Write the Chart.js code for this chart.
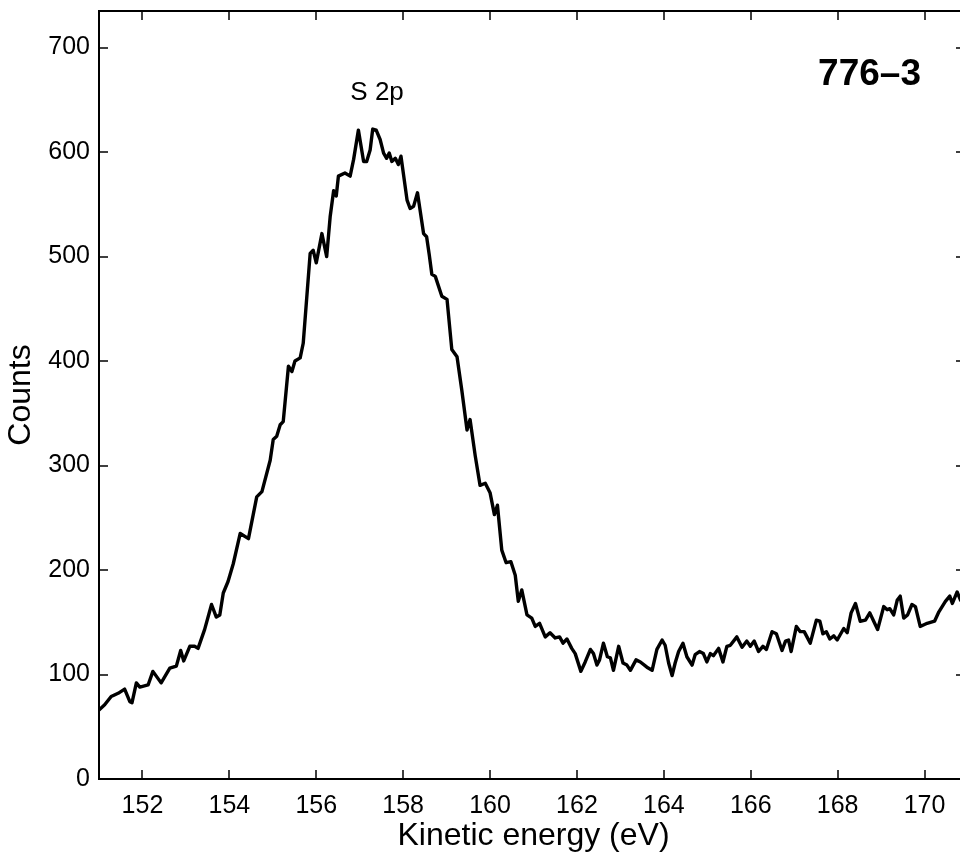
<!DOCTYPE html>
<html>
<head>
<meta charset="utf-8">
<title>776-3 S 2p</title>
<script src="https://cdn.jsdelivr.net/npm/chart.js@4"></script>
<style>
  html, body { margin: 0; padding: 0; background: #fff; overflow: hidden; }
  #grafico { display: block; }
</style>
</head>
<body>
<canvas id="grafico" width="976" height="855" style="width:976px;height:855px"></canvas>
<script>
// 1. Datos
const energia = [
  151.0, 151.13, 151.28, 151.44, 151.59, 151.71, 151.76, 151.86, 151.94, 152.13,
  152.24, 152.43, 152.63, 152.78, 152.88, 152.95, 153.09, 153.2, 153.28, 153.43,
  153.59, 153.7, 153.78, 153.86, 153.97, 154.09, 154.25, 154.44, 154.63, 154.75,
  154.94, 155.01, 155.09, 155.17, 155.24, 155.36, 155.44, 155.51, 155.63, 155.7,
  155.86, 155.93, 156.0, 156.13, 156.24, 156.32, 156.4, 156.46, 156.51, 156.66,
  156.78, 156.86, 156.97, 157.09, 157.16, 157.24, 157.3, 157.38, 157.47, 157.55,
  157.62, 157.68, 157.74, 157.82, 157.89, 157.95, 158.09, 158.16, 158.24, 158.33,
  158.47, 158.54, 158.6, 158.66, 158.74, 158.89, 159.01, 159.12, 159.24, 159.35,
  159.47, 159.54, 159.66, 159.77, 159.89, 160.0, 160.1, 160.17, 160.27, 160.37,
  160.48, 160.58, 160.65, 160.73, 160.85, 160.96, 161.04, 161.14, 161.27, 161.38,
  161.5, 161.6, 161.68, 161.77, 161.88, 161.96, 162.09, 162.19, 162.31, 162.38,
  162.46, 162.52, 162.61, 162.7, 162.77, 162.84, 162.96, 163.06, 163.15, 163.23,
  163.36, 163.46, 163.61, 163.73, 163.84, 163.96, 164.03, 164.11, 164.19, 164.26,
  164.34, 164.44, 164.53, 164.65, 164.72, 164.82, 164.91, 164.99, 165.07, 165.14,
  165.26, 165.36, 165.45, 165.53, 165.68, 165.8, 165.91, 165.99, 166.08, 166.18,
  166.28, 166.36, 166.49, 166.59, 166.72, 166.8, 166.87, 166.93, 167.05, 167.14,
  167.23, 167.37, 167.51, 167.59, 167.66, 167.74, 167.82, 167.91, 167.99, 168.14,
  168.22, 168.31, 168.41, 168.52, 168.64, 168.74, 168.83, 168.92, 169.06, 169.14,
  169.2, 169.29, 169.37, 169.44, 169.52, 169.61, 169.71, 169.79, 169.9, 170.06,
  170.23, 170.33, 170.48, 170.58, 170.64, 170.75, 170.83
];
const cuentas = [
  66, 71, 79, 82, 86, 74, 73, 92, 88, 90,
  103, 92, 106, 108, 123, 113, 127, 127, 125, 143,
  167, 155, 157, 178, 189, 206, 235, 230, 270, 275,
  305, 325, 328, 339, 342, 395, 390, 400, 403, 417,
  503, 506, 494, 522, 500, 538, 563, 558, 577, 580,
  577, 593, 621, 591, 591, 602, 622, 621, 612, 599,
  594, 599, 591, 594, 588, 596, 554, 546, 548, 561,
  522, 519, 502, 483, 481, 462, 459, 411, 404, 372,
  334, 344, 309, 281, 283, 274, 253, 262, 219, 207,
  208, 195, 170, 181, 157, 154, 146, 149, 136, 140,
  135, 136, 130, 134, 125, 120, 103, 112, 124, 120,
  109, 114, 130, 117, 116, 104, 127, 111, 109, 104,
  114, 112, 107, 104, 124, 133, 128, 111, 99, 111,
  122, 130, 117, 109, 119, 122, 120, 112, 120, 118,
  125, 112, 127, 128, 136, 126, 132, 127, 132, 122,
  127, 124, 141, 139, 123, 132, 133, 122, 146, 141,
  141, 130, 152, 151, 139, 141, 134, 137, 133, 144,
  140, 159, 168, 151, 152, 159, 151, 143, 165, 162,
  163, 157, 171, 175, 154, 157, 167, 165, 146, 149,
  151, 160, 170, 175, 168, 179, 171
];
const ticksX = [152, 154, 156, 158, 160, 162, 164, 166, 168, 170];
const ticksY = [0, 100, 200, 300, 400, 500, 600, 700];

const fuente = '"Liberation Sans", Arial, Helvetica, sans-serif';

// 2. Marco con marcas hacia adentro y rótulos
const marco = {
  id: 'marco',
  afterDraw(chart) {
    const { ctx, chartArea: a, scales: { x, y } } = chart;
    ctx.save();
    ctx.strokeStyle = '#000';
    ctx.lineWidth = 2;
    ctx.strokeRect(a.left, a.top, a.right - a.left, a.bottom - a.top);

    ctx.lineWidth = 1.5;
    ctx.beginPath();
    ticksX.forEach(v => {
      const px = Math.round(x.getPixelForValue(v));
      ctx.moveTo(px, a.bottom); ctx.lineTo(px, a.bottom - 9);
      ctx.moveTo(px, a.top); ctx.lineTo(px, a.top + 9);
    });
    ticksY.forEach(v => {
      const py = Math.round(y.getPixelForValue(v));
      ctx.moveTo(a.left, py); ctx.lineTo(a.left + 9, py);
      ctx.moveTo(a.right, py); ctx.lineTo(a.right - 12, py);
    });
    ctx.stroke();

    ctx.fillStyle = '#000';
    ctx.textBaseline = 'alphabetic';
    ctx.font = '26px ' + fuente;
    ctx.textAlign = 'center';
    ctx.fillText('S 2p', x.getPixelForValue(157.4), y.getPixelForValue(650));
    ctx.font = 'bold 37px ' + fuente;
    ctx.textAlign = 'left';
    ctx.fillText('776\u20133', x.getPixelForValue(167.55), y.getPixelForValue(664));
    ctx.restore();
  }
};

// 3. Gráfica
new Chart(document.getElementById('grafico'), {
  type: 'line',
  data: {
    datasets: [{
      data: energia.map((e, i) => ({ x: e, y: cuentas[i] })),
      borderColor: '#000',
      borderWidth: 3.4,
      borderJoinStyle: 'round',
      borderCapStyle: 'round',
      pointRadius: 0,
      tension: 0,
      fill: false
    }]
  },
  options: {
    responsive: false,
    animation: false,
    events: [],
    layout: { padding: { left: 0, top: 11, right: 8, bottom: 0 } },
    plugins: { legend: { display: false }, tooltip: { enabled: false } },
    scales: {
      x: {
        type: 'linear',
        min: 151,
        max: 171,
        afterBuildTicks: s => { s.ticks = ticksX.map(v => ({ value: v })); },
        afterFit: s => { s.height = 76; s.paddingLeft = 0; s.paddingRight = 0; },
        grid: { display: false, drawTicks: false },
        border: { display: false },
        ticks: { color: '#000', padding: 12, font: { family: fuente, size: 25 } },
        title: {
          display: true,
          text: 'Kinetic energy (eV)',
          color: '#000',
          padding: 0,
          font: { family: fuente, size: 32 }
        }
      },
      y: {
        min: 0,
        max: 735,
        afterBuildTicks: s => { s.ticks = ticksY.map(v => ({ value: v })); },
        afterFit: s => { s.width = 99; s.paddingTop = 0; s.paddingBottom = 0; },
        grid: { display: false, drawTicks: false },
        border: { display: false },
        ticks: { color: '#000', padding: 9, font: { family: fuente, size: 25 } },
        title: {
          display: true,
          text: 'Counts',
          color: '#000',
          padding: { top: 2, bottom: 0 },
          font: { family: fuente, size: 32 }
        }
      }
    }
  },
  plugins: [marco]
});
</script>
</body>
</html>
